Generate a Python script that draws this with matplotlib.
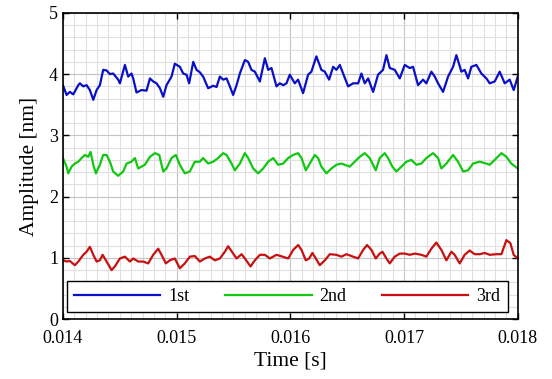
import matplotlib
matplotlib.use('Agg')

import matplotlib.pyplot as plt
import numpy as np
from matplotlib.ticker import MultipleLocator

plt.rcParams['font.family'] = ['Liberation Serif', 'DejaVu Serif']

# times are in microseconds after t = 0.014 s
t1_us = [0, 32, 61, 91, 135, 149, 179, 208, 237, 267, 296, 325, 354, 384, 413, 442,
         486, 501, 545, 574, 603, 618, 647, 691, 735, 765, 794, 823, 853, 882, 911,
         955, 984, 1028, 1058, 1087, 1110, 1146, 1175, 1204, 1233, 1277, 1321, 1351,
         1380, 1409, 1439, 1468, 1497, 1527, 1556, 1600, 1629, 1658, 1688, 1732, 1776,
         1805, 1834, 1878, 1907, 1937, 1966, 1995, 2039, 2068, 2112, 2156, 2185, 2229,
         2273, 2303, 2341, 2376, 2405, 2435, 2464, 2508, 2552, 2596, 2625, 2654, 2684,
         2728, 2771, 2815, 2845, 2874, 2918, 2962, 3006, 3050, 3079, 3123, 3167, 3196,
         3240, 3270, 3299, 3343, 3387, 3431, 3460, 3504, 3533, 3563, 3592, 3636, 3680,
         3724, 3753, 3797, 3841, 3885, 3929, 3964, 4000]
amp1 = [3.82, 3.66, 3.71, 3.67, 3.82, 3.85, 3.80, 3.82, 3.74, 3.58, 3.74, 3.82, 4.07,
        4.06, 4.00, 4.01, 3.91, 3.85, 4.15, 3.96, 4.01, 3.93, 3.70, 3.74, 3.73, 3.93,
        3.88, 3.85, 3.77, 3.63, 3.82, 3.96, 4.17, 4.12, 4.01, 3.99, 3.85, 4.20, 4.07,
        4.03, 3.96, 3.77, 3.81, 3.79, 3.96, 3.91, 3.93, 3.80, 3.66, 3.82, 4.01, 4.23,
        4.20, 4.07, 4.04, 3.88, 4.26, 4.07, 4.10, 3.80, 3.85, 3.82, 3.85, 3.99, 3.85,
        3.91, 3.69, 3.99, 4.04, 4.29, 4.07, 4.04, 3.91, 4.12, 4.07, 4.15, 4.01, 3.80,
        3.85, 3.85, 4.01, 3.85, 3.93, 3.71, 3.99, 4.07, 4.31, 4.10, 4.07, 3.93, 4.15,
        4.10, 4.12, 3.82, 3.91, 3.85, 4.04, 3.96, 3.85, 3.71, 3.96, 4.12, 4.31, 4.04,
        4.07, 3.93, 4.12, 4.15, 4.01, 3.93, 3.85, 3.88, 4.04, 3.85, 3.91, 3.74, 3.96]

t2_us = [0, 32, 47, 76, 105, 135, 164, 193, 223, 243, 267, 290, 325, 354, 384, 413,
         442, 486, 530, 560, 603, 633, 662, 691, 721, 765, 809, 847, 882, 911, 955,
         993, 1028, 1072, 1116, 1160, 1204, 1233, 1277, 1321, 1365, 1409, 1439, 1483,
         1512, 1556, 1600, 1629, 1673, 1717, 1761, 1805, 1849, 1893, 1937, 1981, 2024,
         2068, 2098, 2136, 2171, 2215, 2244, 2273, 2317, 2361, 2405, 2449, 2478, 2522,
         2566, 2610, 2654, 2698, 2751, 2786, 2830, 2859, 2897, 2933, 2977, 3021, 3064,
         3108, 3152, 3196, 3255, 3299, 3328, 3372, 3431, 3475, 3519, 3563, 3607, 3665,
         3724, 3753, 3797, 3856, 3900, 3943, 4000]
amp2 = [2.63, 2.49, 2.38, 2.49, 2.54, 2.57, 2.63, 2.68, 2.65, 2.73, 2.52, 2.38, 2.52,
        2.68, 2.68, 2.57, 2.41, 2.34, 2.41, 2.54, 2.57, 2.63, 2.46, 2.49, 2.52, 2.65,
        2.71, 2.68, 2.41, 2.46, 2.63, 2.68, 2.52, 2.38, 2.41, 2.57, 2.57, 2.63, 2.54,
        2.57, 2.63, 2.71, 2.68, 2.54, 2.43, 2.54, 2.71, 2.63, 2.46, 2.38, 2.46, 2.57,
        2.63, 2.52, 2.54, 2.63, 2.68, 2.71, 2.63, 2.43, 2.54, 2.68, 2.63, 2.49, 2.38,
        2.46, 2.52, 2.54, 2.52, 2.49, 2.57, 2.65, 2.71, 2.63, 2.43, 2.63, 2.71, 2.63,
        2.49, 2.41, 2.49, 2.57, 2.60, 2.52, 2.54, 2.63, 2.71, 2.63, 2.46, 2.54, 2.68,
        2.57, 2.41, 2.43, 2.54, 2.57, 2.54, 2.52, 2.60, 2.71, 2.65, 2.54, 2.46]

t3_us = [0, 32, 61, 105, 135, 179, 208, 237, 267, 296, 325, 349, 378, 428, 457, 501,
         545, 589, 618, 662, 706, 750, 794, 838, 867, 905, 940, 984, 1028, 1072, 1116,
         1160, 1204, 1248, 1292, 1336, 1380, 1424, 1453, 1497, 1527, 1571, 1600, 1650,
         1688, 1732, 1776, 1820, 1878, 1931, 1981, 2025, 2069, 2098, 2136, 2165, 2194,
         2224, 2259, 2303, 2347, 2405, 2449, 2493, 2537, 2596, 2640, 2675, 2713, 2751,
         2786, 2810, 2845, 2874, 2918, 2962, 3006, 3050, 3094, 3152, 3196, 3240, 3284,
         3328, 3372, 3416, 3445, 3489, 3533, 3577, 3621, 3665, 3709, 3753, 3812, 3856,
         3900, 3935, 3964, 4000]
amp3 = [0.96, 0.94, 0.95, 0.88, 0.94, 1.05, 1.10, 1.18, 1.05, 0.94, 0.96, 1.05, 0.96,
        0.80, 0.86, 0.99, 1.02, 0.94, 0.99, 0.94, 0.94, 0.91, 1.05, 1.15, 1.05, 0.91,
        0.96, 0.99, 0.83, 0.91, 1.02, 1.03, 0.94, 0.99, 1.02, 0.96, 0.99, 1.10, 1.19,
        1.07, 0.99, 1.06, 0.99, 0.86, 0.96, 1.05, 1.05, 0.99, 1.05, 1.02, 0.99, 1.13,
        1.21, 1.13, 0.96, 0.99, 1.08, 0.99, 0.88, 0.96, 1.06, 1.05, 1.02, 1.06, 1.03,
        0.99, 1.13, 1.21, 1.13, 0.99, 1.07, 1.10, 0.99, 0.91, 1.02, 1.07, 1.07, 1.05,
        1.07, 1.05, 1.02, 1.15, 1.25, 1.13, 0.96, 1.10, 1.05, 0.91, 1.05, 1.12, 1.06,
        1.06, 1.08, 1.05, 1.06, 1.06, 1.29, 1.24, 1.05, 0.99]

labels = ['1st', '2nd', '3rd']
colors = ['#0a10c8', '#10c810', '#c81010']

fig = plt.figure(figsize=(5.52, 3.79), dpi=100)
ax = fig.add_axes([0.114, 0.158, 0.824, 0.808])

t0 = 0.014
for tu, a, lab, c in zip([t1_us, t2_us, t3_us], [amp1, amp2, amp3], labels, colors):
    ax.plot(t0 + np.array(tu) * 1e-6, a, color=c, lw=1.6, label=lab)

ax.set_xlim(0.014, 0.018)
ax.set_ylim(0, 5)
ax.xaxis.set_major_locator(MultipleLocator(0.001))
ax.xaxis.set_minor_locator(MultipleLocator(0.0001))
ax.yaxis.set_major_locator(MultipleLocator(1))
ax.yaxis.set_minor_locator(MultipleLocator(0.2))
ax.grid(True, which='major', color='#c4c4c4', lw=0.8)
ax.grid(True, which='minor', color='#e0e0e0', lw=0.8)
ax.set_axisbelow(True)
ax.tick_params(which='major', direction='in', length=4, width=1, labelsize=13,
               top=True, right=True)
ax.tick_params(axis='x', which='major', pad=8)
ax.tick_params(which='minor', length=0)
for s in ax.spines.values():
    s.set_linewidth(1.2)

ax.set_xlabel('Time [s]', fontsize=15.5, labelpad=3)
ax.set_ylabel('Amplitude [nm]', fontsize=15.5, labelpad=7)

leg = ax.legend(loc='lower left', bbox_to_anchor=(0.008, 0.022, 0.970, 0.114),
                mode='expand', ncol=3, fontsize=13, handlelength=4.8,
                handletextpad=0.45, fancybox=False, framealpha=1,
                edgecolor='black', borderaxespad=0)
leg.get_frame().set_linewidth(1.0)

fig.savefig('out.png', dpi=100)
